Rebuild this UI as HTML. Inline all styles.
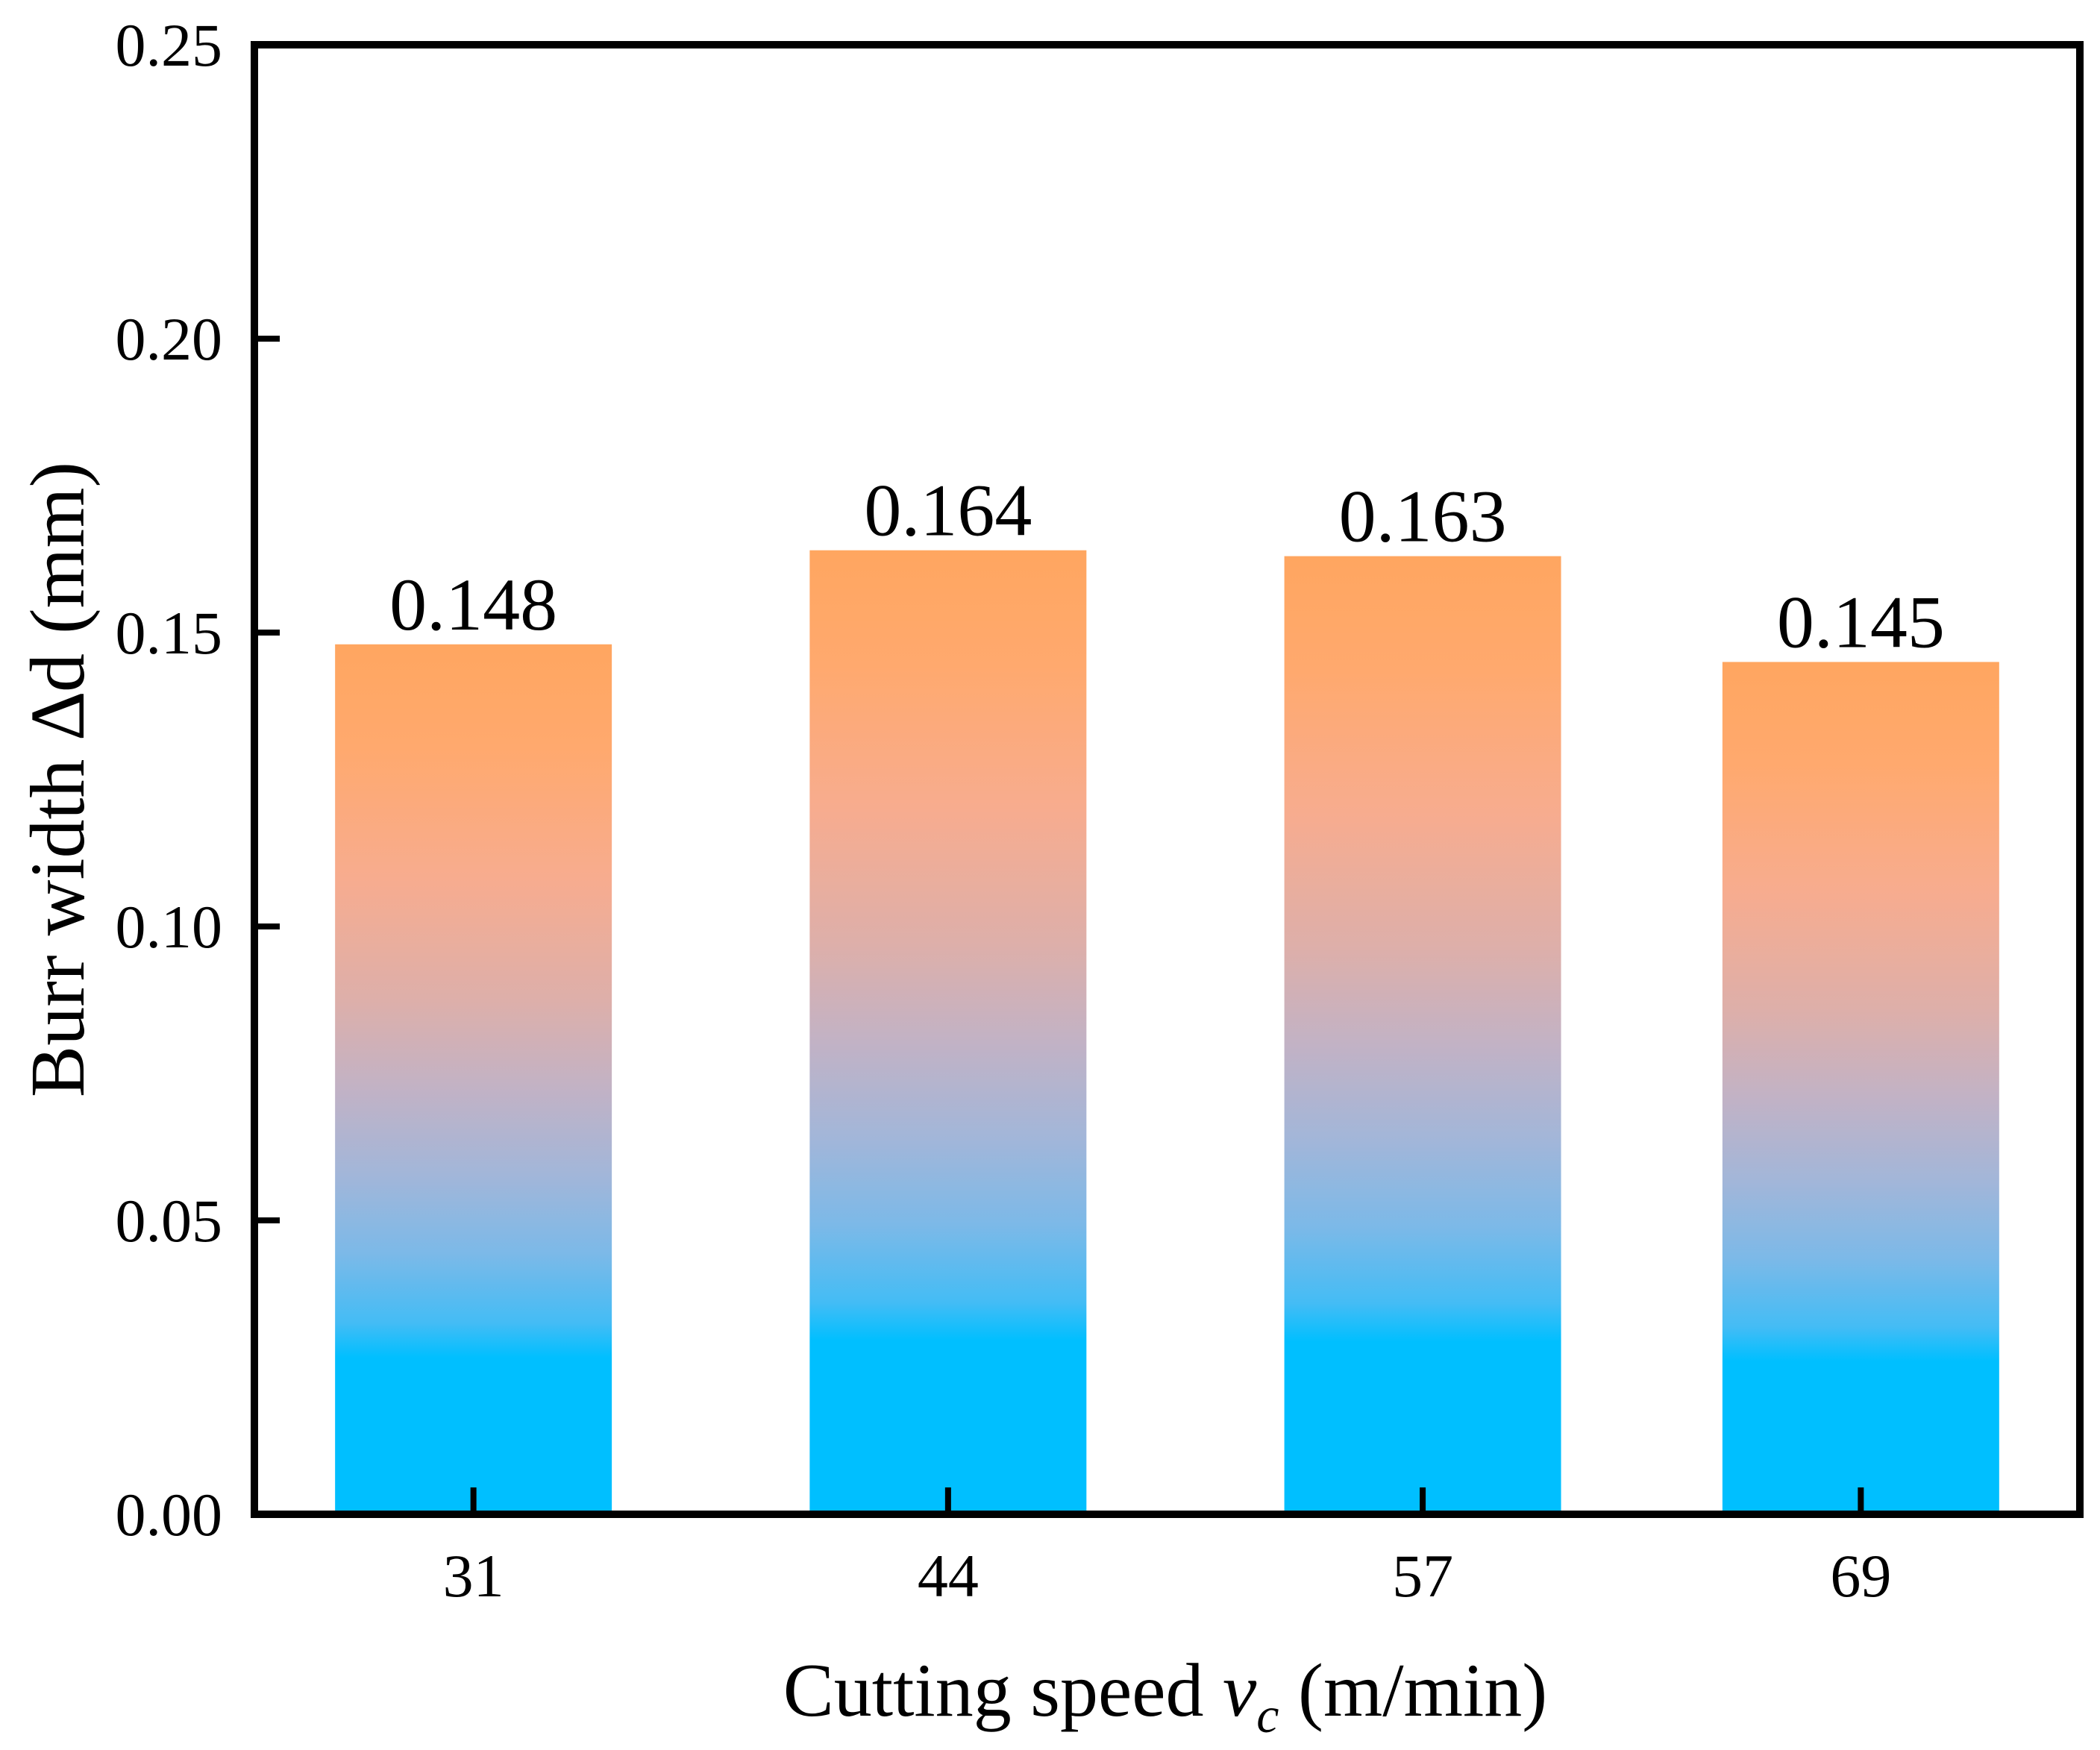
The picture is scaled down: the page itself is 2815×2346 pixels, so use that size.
<!DOCTYPE html>
<html><head><meta charset="utf-8"><style>
html,body{margin:0;padding:0;background:#fff;}
svg{display:block;font-family:"Liberation Serif","Times New Roman",serif;}
</style></head><body>
<svg id="chart" width="2815" height="2346" viewBox="0 0 2815 2346" xmlns="http://www.w3.org/2000/svg">
<defs>
<linearGradient id="barGrad" x1="0" y1="0" x2="0" y2="1">
<stop offset="0" stop-color="#FFA660"/>
<stop offset="0.12" stop-color="#FFA96E"/>
<stop offset="0.27" stop-color="#F7AC8F"/>
<stop offset="0.41" stop-color="#DDAFAA"/>
<stop offset="0.51" stop-color="#C2B2C5"/>
<stop offset="0.61" stop-color="#A2B6D9"/>
<stop offset="0.70" stop-color="#7CB9E8"/>
<stop offset="0.78" stop-color="#44BCF5"/>
<stop offset="0.82" stop-color="#00BFFF"/>
<stop offset="1" stop-color="#00BFFF"/>
</linearGradient>
</defs>
<g id="bars"></g>
<g id="labels"></g>
<g id="axes"></g>
<text x="1562" y="2300" font-size="102" text-anchor="middle">Cutting speed <tspan font-style="italic">v</tspan><tspan font-style="italic" font-size="68" dy="22">c</tspan><tspan dy="-22"> (m/min)</tspan></text>
<text transform="translate(112,1045) rotate(-90)" font-size="104" text-anchor="middle">Burr width ∆d (mm)</text>
</svg>
<script>
const categories = [31, 44, 57, 69];
const values = [0.148, 0.164, 0.163, 0.145];
const valueLabels = ["0.148", "0.164", "0.163", "0.145"];
const yTicks = [0, 0.05, 0.10, 0.15, 0.20, 0.25];
const yTickLabels = ["0.00", "0.05", "0.10", "0.15", "0.20", "0.25"];

const NS = "http://www.w3.org/2000/svg";
const L = 341, R = 2788, T = 60, B = 2030;
const xMin = 25, xMax = 75, yMin = 0, yMax = 0.25;
const barW = 7.58;
function xs(v){ return L + (v - xMin) / (xMax - xMin) * (R - L); }
function ys(v){ return B - (v - yMin) / (yMax - yMin) * (B - T); }
function mk(tag, attrs, parent){
  const e = document.createElementNS(NS, tag);
  for (const k in attrs) e.setAttribute(k, attrs[k]);
  parent.appendChild(e);
  return e;
}
const gB = document.getElementById('bars');
const gL = document.getElementById('labels');
const gA = document.getElementById('axes');

categories.forEach((c, i) => {
  const x0 = xs(c - barW / 2), x1 = xs(c + barW / 2);
  const r = mk('rect', {x: x0, y: ys(values[i]), width: x1 - x0, height: ys(0) - ys(values[i]), fill: 'url(#barGrad)'}, gB);
  
  
  const t = mk('text', {x: xs(c), y: ys(values[i]) - 20, 'font-size': 100, 'text-anchor': 'middle'}, gL);
  t.textContent = valueLabels[i];
  
  
});

const frame = mk('rect', {x: L, y: T, width: R - L, height: B - T, fill: 'none', stroke: '#000', 'stroke-width': 10}, gA);



yTicks.forEach((v, i) => {
  const y = ys(v);
  if (i > 0 && i < yTicks.length - 1) {
    const tk = mk('line', {x1: L, x2: L + 34, y1: y, y2: y, stroke: '#000', 'stroke-width': 8}, gA);
    
    
  }
  const t = mk('text', {x: 298, y: y + 28, 'font-size': 82, 'text-anchor': 'end'}, gA);
  t.textContent = yTickLabels[i];
  
  
});

categories.forEach((c) => {
  const x = xs(c);
  const tk = mk('line', {x1: x, x2: x, y1: B, y2: B - 36, stroke: '#000', 'stroke-width': 8}, gA);
  
  
  const t = mk('text', {x: x, y: 2140, 'font-size': 82, 'text-anchor': 'middle'}, gA);
  t.textContent = String(c);
  
  
});
</script>
</body></html>
